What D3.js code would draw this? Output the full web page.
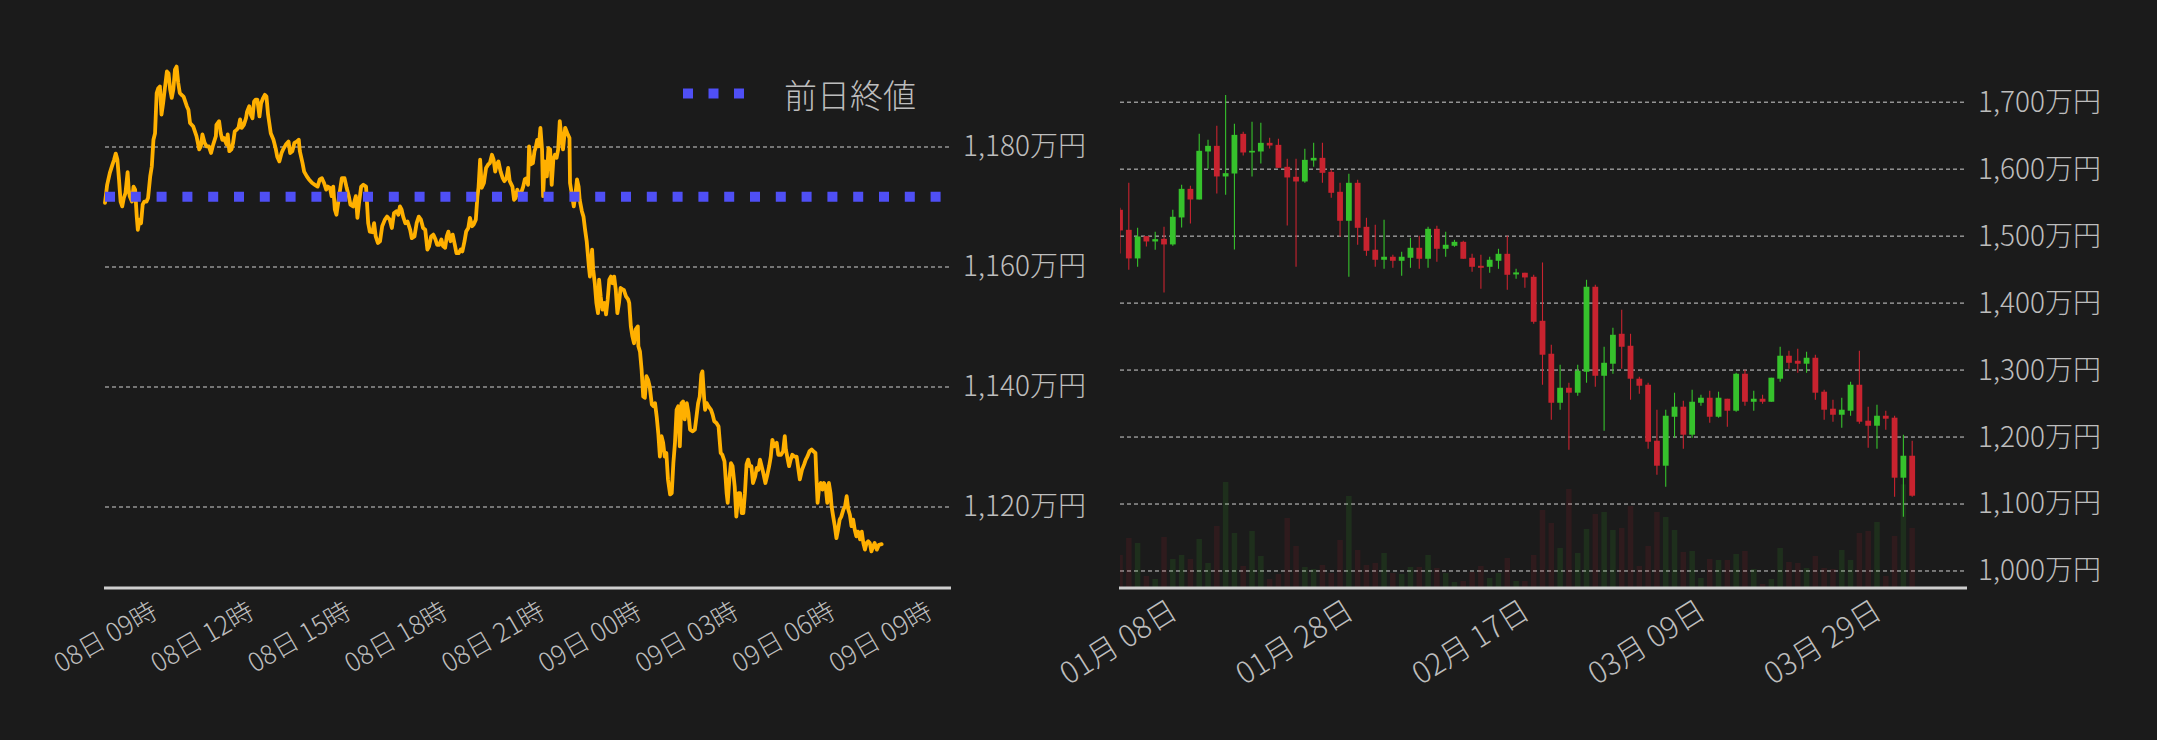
<!DOCTYPE html>
<html><head><meta charset="utf-8">
<script src="https://cdn.jsdelivr.net/npm/d3@7"></script>
<style>
html,body{margin:0;padding:0;background:#1b1b1b;}
svg{display:block;}
text{font-family:"Noto Sans CJK JP","Noto Sans",sans-serif;font-weight:300;}
</style></head><body>
<svg id="c" width="2157" height="740"></svg>
<script>
// ---------- Left chart: intraday price (minutes from 08日 09:00, 万円) ----------
const lineStart = Date.UTC(2025,3,8,9,0);
const lineEnd = Date.UTC(2025,3,9,11,10);
const linePoints = [
[0,1170.7],[4,1173.7],[9,1175.7],[14,1177.1],[17,1177.9],[20,1178.9],[23,1177.9],[26,1174.6],[29,1170.9],[32,1170.1],
[35,1171.5],[38,1172.3],[42,1175.8],[44,1172.9],[46,1171.8],[50,1170.9],[53,1173.4],[56,1172.9],[59,1168.4],[61,1166.2],
[64,1167.9],[67,1167.3],[70,1170.4],[73,1170.9],[77,1170.9],[80,1171.5],[84,1175.1],[87,1176.8],[90,1181.2],[93,1182.3],
[96,1189.0],[99,1189.8],[102,1190.1],[105,1185.4],[108,1187.3],[111,1189.6],[115,1192.6],[118,1192.3],[121,1189.6],[124,1188.2],
[127,1189.6],[130,1192.9],[133,1193.4],[136,1190.7],[139,1189.0],[142,1188.7],[146,1188.4],[149,1187.6],[152,1186.8],[155,1186.2],
[158,1184.0],[164,1183.4],[170,1181.8],[175,1179.6],[178,1180.1],[181,1182.1],[185,1180.7],[189,1180.1],[193,1180.1],[197,1179.0],
[201,1180.4],[206,1181.8],[207,1183.7],[212,1184.3],[215,1182.3],[218,1181.2],[221,1181.5],[226,1180.4],[228,1182.1],[231,1179.3],
[235,1179.6],[238,1180.7],[241,1182.6],[245,1182.9],[248,1183.2],[251,1184.6],[254,1183.2],[258,1183.7],[262,1184.8],[264,1185.9],
[268,1186.8],[271,1185.4],[274,1184.8],[277,1187.6],[280,1187.9],[283,1187.9],[287,1185.1],[290,1187.3],[294,1188.2],[297,1188.7],
[300,1188.4],[303,1185.4],[308,1182.3],[313,1181.2],[317,1179.8],[320,1178.4],[324,1177.6],[328,1179.0],[331,1179.6],[336,1180.4],
[341,1180.9],[344,1179.0],[348,1179.3],[352,1180.7],[356,1180.9],[360,1181.2],[362,1179.3],[367,1177.3],[370,1175.9],[375,1175.1],
[379,1174.6],[385,1174.0],[390,1173.7],[395,1173.4],[399,1174.6],[403,1174.8],[407,1174.0],[411,1172.9],[414,1173.4],[418,1173.2],
[421,1171.8],[424,1173.4],[427,1169.6],[430,1168.7],[435,1171.8],[440,1174.8],[445,1174.8],[449,1173.2],[453,1171.8],[456,1170.4],
[461,1170.1],[466,1171.8],[469,1168.2],[472,1170.7],[476,1173.4],[480,1173.7],[485,1173.4],[489,1167.3],[492,1165.9],[497,1165.8],
[500,1167.3],[503,1165.1],[507,1164.0],[511,1164.3],[515,1166.8],[520,1167.9],[524,1168.4],[529,1167.9],[533,1166.5],[537,1169.0],
[542,1169.3],[545,1168.7],[548,1170.1],[551,1169.6],[554,1168.4],[558,1167.3],[562,1167.6],[567,1166.2],[570,1164.8],[575,1165.1],
[579,1167.3],[583,1168.4],[587,1167.9],[591,1166.5],[595,1166.2],[599,1162.9],[602,1163.4],[606,1165.1],[610,1165.4],[614,1164.6],
[617,1163.7],[621,1163.7],[625,1164.6],[628,1163.5],[632,1163.2],[635,1165.1],[638,1165.9],[642,1164.3],[646,1165.4],[650,1163.7],
[653,1162.3],[657,1162.3],[661,1162.9],[664,1162.6],[668,1164.3],[671,1165.9],[675,1166.5],[678,1168.2],[682,1166.8],[685,1167.1],
[689,1167.9],[692,1171.8],[694,1173.2],[697,1177.9],[700,1173.2],[704,1174.0],[708,1176.5],[712,1177.1],[715,1177.3],[719,1178.7],
[722,1177.9],[725,1175.9],[728,1177.1],[731,1177.6],[735,1175.9],[739,1174.8],[742,1174.3],[746,1174.8],[749,1176.5],[752,1174.3],
[757,1173.4],[760,1171.2],[763,1171.5],[766,1172.9],[770,1171.8],[773,1172.3],[777,1173.4],[780,1174.6],[783,1174.8],[786,1173.7],
[788,1180.1],[791,1177.1],[795,1177.3],[798,1179.3],[800,1179.8],[803,1181.2],[806,1180.1],[809,1183.2],[812,1179.6],[814,1171.8],
[817,1177.6],[821,1175.1],[824,1179.8],[827,1179.6],[830,1173.7],[833,1177.9],[836,1178.7],[839,1178.2],[842,1179.6],[845,1184.3],
[848,1181.5],[851,1179.6],[855,1183.2],[859,1182.3],[863,1181.5],[864,1174.0],[868,1171.8],[871,1170.1],[874,1172.1],[877,1174.6],
[880,1173.4],[882,1171.2],[886,1169.3],[889,1168.4],[892,1166.2],[895,1164.3],[899,1160.1],[901,1158.4],[905,1162.9],[907,1159.6],
[910,1157.3],[913,1154.0],[916,1152.3],[918,1157.9],[921,1155.1],[924,1152.9],[928,1154.0],[931,1152.1],[934,1154.6],[937,1157.9],
[940,1158.4],[943,1157.3],[946,1158.4],[949,1156.2],[952,1152.3],[955,1154.0],[958,1156.5],[963,1156.2],[964,1156.2],[968,1155.1],
[972,1154.6],[974,1154.0],[977,1150.1],[980,1148.4],[983,1147.3],[986,1149.6],[990,1150.1],[991,1146.8],[994,1145.9],[997,1142.9],
[1000,1138.4],[1003,1138.2],[1006,1141.8],[1009,1141.2],[1012,1140.1],[1016,1137.1],[1019,1136.8],[1022,1137.3],[1025,1135.1],[1028,1132.3],
[1031,1128.4],[1034,1131.8],[1037,1130.7],[1040,1128.4],[1043,1129.0],[1046,1124.6],[1050,1122.1],[1053,1122.3],[1056,1127.3],[1059,1130.7],
[1062,1136.2],[1065,1136.8],[1068,1130.1],[1071,1137.3],[1074,1137.6],[1077,1134.6],[1081,1137.3],[1084,1135.7],[1087,1132.9],[1092,1132.6],
[1096,1132.9],[1099,1135.1],[1102,1137.3],[1105,1138.4],[1108,1142.1],[1110,1142.6],[1113,1138.4],[1115,1136.2],[1118,1137.3],[1121,1136.8],
[1126,1136.2],[1129,1135.4],[1132,1134.3],[1136,1134.0],[1140,1133.4],[1144,1129.0],[1147,1128.7],[1151,1127.6],[1155,1122.3],[1157,1120.7],
[1160,1124.6],[1163,1127.3],[1166,1126.8],[1170,1123.4],[1173,1118.4],[1177,1122.3],[1180,1122.3],[1183,1119.0],[1186,1119.0],[1189,1122.3],
[1192,1127.1],[1195,1127.9],[1198,1126.8],[1201,1126.8],[1204,1124.0],[1208,1125.1],[1211,1126.5],[1214,1126.2],[1217,1127.9],[1220,1126.8],
[1223,1125.7],[1227,1124.0],[1230,1125.1],[1234,1126.8],[1237,1128.4],[1240,1131.2],[1243,1130.1],[1248,1130.7],[1251,1128.7],[1256,1128.7],
[1260,1129.3],[1263,1131.8],[1265,1129.6],[1268,1128.2],[1271,1126.8],[1274,1127.9],[1277,1128.7],[1281,1128.4],[1285,1128.4],[1288,1126.5],
[1291,1124.6],[1295,1126.2],[1299,1127.1],[1302,1127.9],[1305,1128.4],[1309,1129.3],[1313,1129.6],[1316,1129.3],[1320,1129.0],[1322,1124.6],
[1324,1120.7],[1327,1123.4],[1330,1124.0],[1333,1122.9],[1336,1124.0],[1339,1123.4],[1342,1120.7],[1345,1124.0],[1348,1122.3],[1350,1120.1],
[1353,1118.4],[1356,1116.8],[1359,1114.8],[1362,1116.2],[1365,1117.9],[1368,1118.4],[1372,1119.6],[1375,1120.1],[1378,1121.8],[1381,1119.6],
[1384,1118.7],[1387,1116.8],[1390,1117.9],[1393,1116.2],[1396,1115.1],[1399,1115.9],[1403,1114.6],[1406,1115.9],[1409,1114.0],[1412,1112.9],
[1415,1114.0],[1418,1114.3],[1421,1114.0],[1424,1112.6],[1427,1113.4],[1430,1114.0],[1434,1112.9],[1438,1113.7],[1443,1113.8]
];
const prevClose = 1171.7;
const leftYTicks = [1120, 1140, 1160, 1180];
const legendLabel = "前日終値";

// ---------- Right chart: daily candles (万円) ----------
const candleStart = Date.UTC(2025,0,8);
const candleOpen  = [1539.3,1509.4,1466.7,1500.0,1492.0,1496.0,1487.6,1527.9,1570.6,1554.7,1626.4,1634.8,1589.1,1593.5,1652.7,1624.9,1626.4,1639.3,1636.3,1603.5,1588.6,1581.6,1612.9,1616.9,1596.0,1566.2,1522.9,1579.6,1513.9,1479.6,1464.7,1469.2,1463.2,1467.7,1482.6,1466.2,1510.9,1481.1,1485.6,1491.5,1467.7,1455.7,1454.2,1463.2,1473.6,1442.8,1445.3,1439.3,1373.6,1324.4,1251.2,1273.6,1266.2,1297.5,1424.4,1291.5,1309.5,1354.2,1336.3,1287.1,1278.1,1194.5,1157.2,1230.3,1245.3,1203.5,1251.2,1258.7,1230.3,1257.2,1239.3,1294.5,1252.7,1257.2,1252.7,1287.1,1321.4,1313.9,1309.5,1318.4,1267.7,1242.3,1233.3,1239.3,1278.1,1224.4,1216.9,1231.8,1228.9,1139.3,1172.1];
const candleHigh  = [1542.3,1579.6,1512.4,1500.0,1506.5,1513.9,1539.3,1576.6,1575.1,1652.7,1643.8,1664.7,1710.9,1667.7,1655.7,1670.6,1669.2,1646.8,1645.3,1615.4,1615.4,1630.3,1639.3,1639.3,1599.0,1579.6,1593.0,1584.1,1527.4,1516.9,1524.4,1472.1,1476.6,1497.5,1500.5,1513.9,1515.4,1506.5,1494.5,1493.0,1473.6,1472.1,1469.2,1481.1,1500.5,1451.2,1445.3,1442.3,1460.7,1337.8,1308.0,1281.1,1308.0,1434.8,1427.4,1334.8,1363.2,1390.0,1354.2,1290.0,1281.1,1240.8,1240.8,1266.2,1254.2,1270.6,1263.2,1269.2,1267.7,1257.2,1296.0,1300.5,1269.2,1263.2,1288.6,1334.8,1328.9,1331.8,1327.4,1322.9,1270.6,1255.7,1258.7,1282.6,1328.9,1245.3,1248.3,1239.3,1231.8,1203.5,1194.5];
const candleLow   = [1474.1,1449.8,1454.2,1484.6,1479.6,1415.9,1485.6,1512.9,1518.9,1554.7,1600.5,1563.7,1561.7,1480.1,1620.4,1589.1,1608.5,1630.8,1602.0,1515.9,1454.2,1579.6,1603.5,1579.6,1557.2,1499.0,1439.3,1487.1,1470.6,1454.2,1451.2,1452.7,1440.8,1452.7,1451.2,1452.7,1461.7,1469.2,1484.1,1466.2,1446.8,1421.4,1445.3,1451.2,1419.9,1436.3,1422.9,1369.2,1278.1,1225.9,1240.8,1181.1,1261.7,1281.1,1275.1,1209.5,1294.5,1302.0,1255.7,1264.7,1182.6,1143.8,1125.9,1199.0,1182.6,1199.0,1246.8,1221.4,1228.9,1215.4,1237.8,1246.8,1239.3,1249.8,1252.7,1282.6,1302.0,1296.0,1296.0,1255.7,1225.9,1222.9,1213.9,1231.8,1219.9,1184.1,1182.6,1210.9,1110.9,1081.1,1110.9];
const candleClose = [1508.5,1466.7,1499.5,1492.0,1495.5,1487.6,1528.9,1570.6,1554.7,1627.4,1634.8,1589.1,1594.0,1651.2,1624.9,1627.4,1639.3,1635.3,1602.0,1587.6,1581.6,1613.9,1616.9,1594.5,1564.7,1522.9,1579.6,1512.4,1478.1,1464.7,1469.2,1463.2,1469.2,1482.6,1466.2,1510.9,1481.1,1487.1,1491.5,1466.2,1454.2,1452.7,1464.7,1473.6,1442.3,1445.8,1438.3,1372.1,1322.9,1251.2,1273.6,1266.2,1299.0,1424.4,1291.5,1310.9,1352.7,1334.8,1287.1,1276.6,1193.0,1157.2,1231.8,1245.3,1203.5,1252.7,1258.7,1230.3,1258.7,1239.3,1294.5,1252.7,1257.2,1252.7,1288.6,1321.4,1310.9,1309.5,1318.4,1266.2,1240.8,1233.3,1240.8,1278.1,1222.9,1216.9,1231.8,1227.4,1139.3,1172.1,1112.4];
const candleVolume = [990,1500,1350,360,270,1530,870,990,870,1470,750,1860,3180,1650,660,1710,960,270,420,2100,1260,630,570,690,450,1440,2760,1140,690,750,1050,450,420,630,630,990,600,450,180,210,480,660,300,450,900,210,210,990,2340,1950,1200,2970,1050,1770,2220,2280,1740,1800,2460,660,1260,2280,2130,1740,1080,1110,300,870,840,840,1020,1110,570,120,270,1200,780,750,600,960,600,570,1140,840,1650,1710,1980,360,1560,3110,1800];
const rightYTicks = [1000,1100,1200,1300,1400,1500,1600,1700];
const rightXTicks = [Date.UTC(2025,0,8),Date.UTC(2025,0,28),Date.UTC(2025,1,17),Date.UTC(2025,2,9),Date.UTC(2025,2,29)];

// ---------- styles ----------
const labelColor = "#bdbdbd";
const gridColor = "#d0d0d0";
const upColor = "#36c22c", downColor = "#c8232f";
const fontFam = "Noto Sans CJK JP";

const svg = d3.select("#c");
svg.append("rect").attr("width",2157).attr("height",740).attr("fill","#1b1b1b");

// ======== LEFT ========
const xL = d3.scaleUtc().domain([new Date(lineStart), new Date(lineEnd)]).range([105, 950]);
const yL = d3.scaleLinear().domain([1106.5, 1198]).range([588, 39]);

svg.append("g").selectAll("line").data(leftYTicks).join("line")
  .attr("x1",105).attr("x2",950).attr("y1",d=>yL(d)).attr("y2",d=>yL(d))
  .attr("stroke",gridColor).attr("stroke-width",1).attr("stroke-dasharray","4,3");

const lineGen = d3.line().x(d=>xL(new Date(lineStart + d[0]*60000))).y(d=>yL(d[1])).curve(d3.curveLinear);
svg.append("path").datum(linePoints).attr("d",lineGen)
  .attr("fill","none").attr("stroke","#ffb000").attr("stroke-width",3.8)
  .attr("stroke-linejoin","round").attr("stroke-linecap","round");

svg.append("line").attr("x1",105).attr("x2",950).attr("y1",yL(prevClose)).attr("y2",yL(prevClose))
  .attr("stroke","#4f4ff5").attr("stroke-width",10).attr("stroke-dasharray","10,15.8");

// legend
svg.append("line").attr("x1",683).attr("x2",745).attr("y1",93.5).attr("y2",93.5)
  .attr("stroke","#4f4ff5").attr("stroke-width",10).attr("stroke-dasharray","10,15.5");
svg.append("text").attr("x",784).attr("y",93.5).attr("dominant-baseline","central")
  .attr("font-size",33).attr("fill",labelColor).attr("font-family",fontFam).text(legendLabel);

// left y axis labels
const yAxisL = d3.axisRight(yL).tickValues(leftYTicks).tickSize(0).tickPadding(13)
  .tickFormat(d=>d3.format(",")(d)+"万円");
const gyl = svg.append("g").attr("transform","translate(950,0)").call(yAxisL);
gyl.select(".domain").remove();
gyl.selectAll("text").attr("font-size",28).attr("fill",labelColor).attr("font-family",fontFam);

// left x axis
const xAxisL = d3.axisBottom(xL).ticks(d3.utcHour.every(3)).tickSize(0)
  .tickFormat(d3.utcFormat("%d日 %H時"));
const gxl = svg.append("g").attr("transform","translate(0,588)").call(xAxisL);
gxl.select(".domain").remove();
gxl.selectAll("text").attr("font-size",26).attr("fill",labelColor).attr("font-family",fontFam)
  .attr("x",0).attr("y",0).attr("dy","0.35em").attr("text-anchor","middle")
  .attr("transform","translate(0,49) rotate(-30)");
svg.append("line").attr("x1",104).attr("x2",951).attr("y1",588).attr("y2",588)
  .attr("stroke","#cfcfcf").attr("stroke-width",3);

// ======== RIGHT ========
const xR = d3.scaleUtc().domain([new Date(candleStart), new Date(Date.UTC(2025,3,14))]).range([1120, 1965]);
const yR = d3.scaleLinear().domain([974.6, 1760]).range([588, 62]);
const yV = d3.scaleLinear().domain([0, 3300]).range([588, 478]);

svg.append("g").selectAll("line").data(rightYTicks).join("line")
  .attr("x1",1120).attr("x2",1965).attr("y1",d=>yR(d)).attr("y2",d=>yR(d))
  .attr("stroke",gridColor).attr("stroke-width",1).attr("stroke-dasharray","4,3");

const candles = candleOpen.map((o,i)=>({
  date: d3.utcDay.offset(new Date(candleStart), i),
  o, h: candleHigh[i], l: candleLow[i], c: candleClose[i], v: candleVolume[i]
}));

svg.append("defs").append("clipPath").attr("id","clipR")
  .append("rect").attr("x",1120).attr("y",0).attr("width",845).attr("height",588);
const gR = svg.append("g").attr("clip-path","url(#clipR)");

gR.append("g").selectAll("rect").data(candles).join("rect")
  .attr("x",d=>xR(d.date)-2.75).attr("width",5.5)
  .attr("y",d=>yV(d.v)).attr("height",d=>588-yV(d.v))
  .attr("fill",d=>d.c>=d.o?upColor:downColor).attr("fill-opacity",0.12);

gR.append("g").selectAll("line").data(candles).join("line")
  .attr("x1",d=>xR(d.date)).attr("x2",d=>xR(d.date))
  .attr("y1",d=>yR(d.h)).attr("y2",d=>yR(d.l))
  .attr("stroke",d=>d.c>=d.o?upColor:downColor).attr("stroke-width",1.1);

gR.append("g").selectAll("rect").data(candles).join("rect")
  .attr("x",d=>xR(d.date)-2.9).attr("width",5.8)
  .attr("y",d=>yR(Math.max(d.o,d.c)))
  .attr("height",d=>Math.max(1.6, yR(Math.min(d.o,d.c))-yR(Math.max(d.o,d.c))))
  .attr("fill",d=>d.c>=d.o?upColor:downColor);

const yAxisR = d3.axisRight(yR).tickValues(rightYTicks).tickSize(0).tickPadding(13)
  .tickFormat(d=>d3.format(",")(d)+"万円");
const gyr = svg.append("g").attr("transform","translate(1965,0)").call(yAxisR);
gyr.select(".domain").remove();
gyr.selectAll("text").attr("font-size",28).attr("fill",labelColor).attr("font-family",fontFam);

const xAxisR = d3.axisBottom(xR).tickValues(rightXTicks.map(t=>new Date(t))).tickSize(0)
  .tickFormat(d3.utcFormat("%m月 %d日"));
const gxr = svg.append("g").attr("transform","translate(0,588)").call(xAxisR);
gxr.select(".domain").remove();
gxr.selectAll("text").attr("font-size",30).attr("fill",labelColor).attr("font-family",fontFam)
  .attr("x",0).attr("y",0).attr("dy","0.35em").attr("text-anchor","middle")
  .attr("transform","translate(-2,54) rotate(-32)");
svg.append("line").attr("x1",1119).attr("x2",1967).attr("y1",588).attr("y2",588)
  .attr("stroke","#cfcfcf").attr("stroke-width",3);
</script>
</body></html>
